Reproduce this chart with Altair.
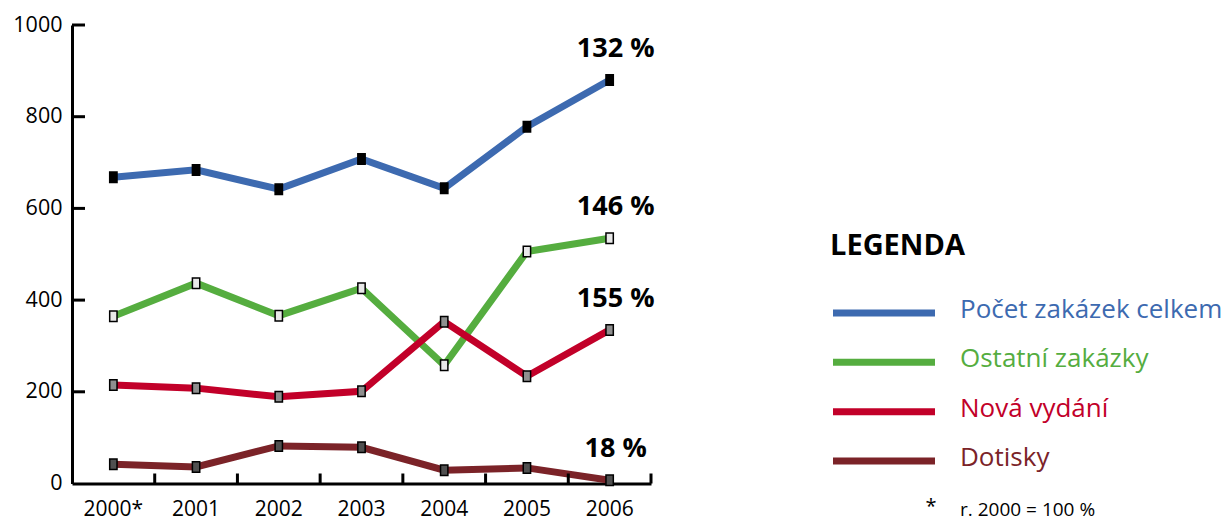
import altair as alt
import pandas as pd

# ---- data ----
years = ["2000*", "2001", "2002", "2003", "2004", "2005", "2006"]
series_names = ["Počet zakázek celkem", "Ostatní zakázky", "Nová vydání", "Dotisky"]
pocet = [668, 684, 642, 708, 644, 778, 880]
ostatni = [365, 437, 366, 426, 258, 506, 535]
nova = [215, 208, 189, 201, 353, 234, 335]
dotisky = [42, 36, 82, 79, 29, 34, 7]
end_labels = ["132 %", "146 %", "155 %", "18 %"]
y_ticks = [0, 200, 400, 600, 800, 1000]

line_colors = ["#3d6ab0", "#55ad3f", "#c20029", "#7b2328"]
marker_fills = ["#000000", "#e8e8e8", "#8f8f8f", "#505050"]

FONT = "Open Sans"

rows = []
for name, vals in zip(series_names, [pocet, ostatni, nova, dotisky]):
    for yr, v in zip(years, vals):
        rows.append({"year": yr, "series": name, "value": v})
df = pd.DataFrame(rows)

end_df = pd.DataFrame({
    "year": [years[-1]] * 4,
    "series": series_names,
    "value": [pocet[-1], ostatni[-1], nova[-1], dotisky[-1]],
    "label": end_labels,
})

W, H = 579, 458.5

xenc = alt.X("year:N", sort=years,
             scale=alt.Scale(type="band", domain=years, paddingInner=0, paddingOuter=0),
             axis=alt.Axis(title=None, labelAngle=0, ticks=False, domain=True,
                           domainColor="black", domainWidth=3, labelPadding=15,
                           labelFont=FONT, labelFontSize=21, labelColor="black", grid=False))
yscale = alt.Scale(domain=[0, 1000], nice=False)
yenc = alt.Y("value:Q", scale=yscale,
             axis=alt.Axis(title=None, values=y_ticks, format="d", ticks=False, domain=True,
                           domainColor="black", domainWidth=3, labelPadding=10,
                           labelFont=FONT, labelFontSize=21.5, labelColor="black", grid=False))
color = alt.Color("series:N", scale=alt.Scale(domain=series_names, range=line_colors), legend=None)

base = alt.Chart(df)
lines = base.mark_line(strokeWidth=7, strokeJoin="miter").encode(
    x=xenc, y=yenc, color=color, detail="series:N")

rect_shape = "M-0.7,-1L0.7,-1L0.7,1L-0.7,1Z"
points = base.mark_point(shape=rect_shape, size=110, filled=True, stroke="black",
                         strokeWidth=1.5, opacity=1).encode(
    x=alt.X("year:N", sort=years),
    y=alt.Y("value:Q", scale=yscale),
    fill=alt.Fill("series:N", scale=alt.Scale(domain=series_names, range=marker_fills), legend=None),
)

ends = alt.Chart(end_df).mark_text(font=FONT, fontSize=27, fontWeight="bold", color="black",
                                   dy=-31, dx=6, baseline="middle").encode(
    x=alt.X("year:N", sort=years), y=alt.Y("value:Q", scale=yscale), text="label:N")

# inward axis ticks
ytick_df = pd.DataFrame({"value": y_ticks[1:]})
yticks = alt.Chart(ytick_df).mark_rule(color="black", strokeWidth=3).encode(
    y=alt.Y("value:Q", scale=yscale), x=alt.value(0), x2=alt.value(13))
xtick_df = pd.DataFrame({"year": years})
xticks = alt.Chart(xtick_df).mark_rule(color="black", strokeWidth=3).encode(
    x=alt.X("year:N", sort=years, bandPosition=1), y=alt.value(H - 10), y2=alt.value(H))

main = alt.layer(lines, yticks, xticks, points, ends)

# custom legend on the right
leg_df = pd.DataFrame({"series": series_names})
leg_y = alt.Y("series:N", sort=series_names,
              scale=alt.Scale(type="point", domain=series_names, range=[288, 436], padding=0),
              axis=None)
leg_lines = alt.Chart(leg_df).mark_rule(strokeWidth=7).encode(
    y=leg_y, x=alt.value(761), x2=alt.value(863), color=color)
leg_text = alt.Chart(leg_df).mark_text(font=FONT, fontSize=26, align="left",
                                       baseline="middle", dy=-3).encode(
    y=leg_y, x=alt.value(888), text="series:N", color=color)
leg_title = alt.Chart(pd.DataFrame({"t": ["LEGENDA"]})).mark_text(
    font=FONT, fontSize=29, fontWeight="bold", align="left", baseline="middle", color="black").encode(
    x=alt.value(758), y=alt.value(221), text="t:N")
note_star = alt.Chart(pd.DataFrame({"t": ["*"]})).mark_text(
    font=FONT, fontSize=20, align="center", baseline="alphabetic", color="black").encode(
    x=alt.value(859), y=alt.value(488), text="t:N")
note_text = alt.Chart(pd.DataFrame({"t": ["r. 2000 = 100 %"]})).mark_text(
    font=FONT, fontSize=19, align="left", baseline="alphabetic", color="black").encode(
    x=alt.value(888), y=alt.value(491), text="t:N")

legend = alt.layer(leg_lines, leg_text, leg_title, note_star, note_text)

chart = alt.layer(main, legend).resolve_scale(y="independent").properties(
    width=W, height=H,
    background="white",
    autosize=alt.AutoSizeParams(type="none"),
    padding={"left": 64, "top": 17, "right": 1216 - 64 - W, "bottom": 514 - 17 - H},
).configure_view(stroke=None)

chart.save("out.html", embed_options={"renderer": "svg", "actions": False})
